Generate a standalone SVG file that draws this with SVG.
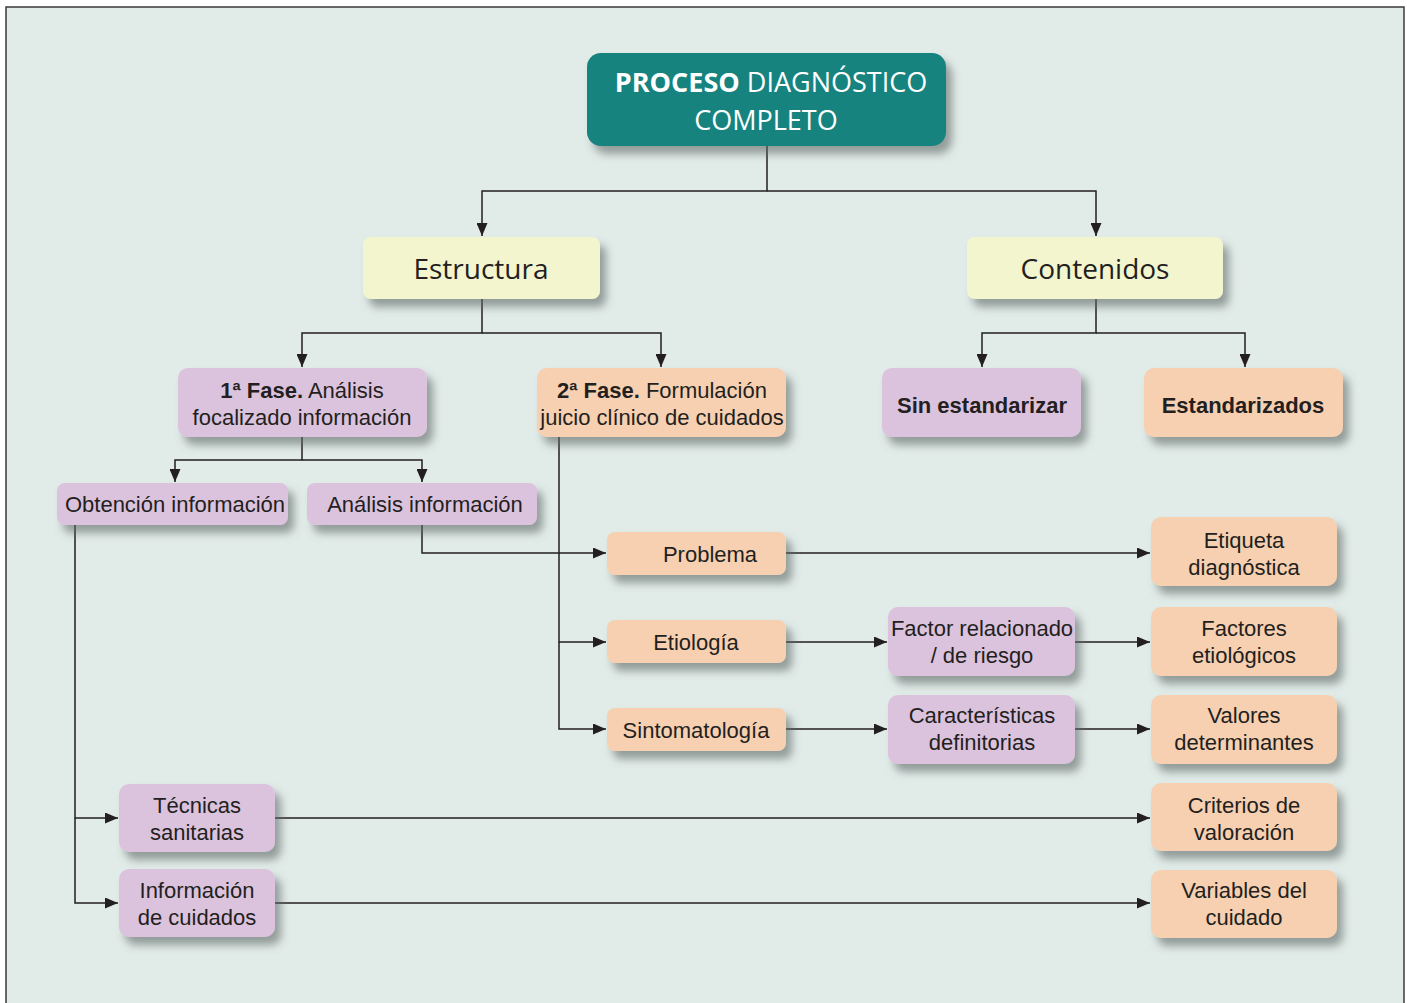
<svg xmlns="http://www.w3.org/2000/svg" width="1407" height="1003" viewBox="0 0 1407 1003">
<defs>
<filter id="sh" x="-20%" y="-30%" width="150%" height="190%">
<feDropShadow dx="6" dy="8" stdDeviation="4.5" flood-color="#5f6866" flood-opacity="0.6"/>
</filter>
<marker id="ar" viewBox="0 0 13 11" refX="13" refY="5.5" markerWidth="13" markerHeight="11" markerUnits="userSpaceOnUse" orient="auto">
<path d="M0,0 L13,5.5 L0,11 Z" fill="#231f20"/>
</marker>
<style>
.bg{fill:#e1ebe8;stroke:#3a3a3a;stroke-width:1.5}
.teal{fill:#17837f;filter:url(#sh)}
.yel{fill:#f3f5cf;filter:url(#sh)}
.pur{fill:#dcc3dd;filter:url(#sh)}
.pch{fill:#f6d0b0;filter:url(#sh)}
.t{font-family:"Liberation Sans",Arial,sans-serif;font-size:22px;fill:#231f20;text-anchor:middle}
.c{font-family:"Open Sans","Noto Sans",sans-serif;fill:#231f20;text-anchor:middle}
.w{fill:#ffffff}
.b{font-weight:bold}
.ln{fill:none;stroke:#231f20;stroke-width:1.5}
</style>
</defs>
<rect class="bg" x="6" y="7" width="1398" height="1010"/>

<g id="connectors">
<path class="ln" d="M767,146 V191 H482 V236" marker-end="url(#ar)"/>
<path class="ln" d="M767,191 H1096 V236" marker-end="url(#ar)"/>
<path class="ln" d="M482,299 V333 H302 V367" marker-end="url(#ar)"/>
<path class="ln" d="M482,333 H661 V367" marker-end="url(#ar)"/>
<path class="ln" d="M1096,299 V333 H982 V367" marker-end="url(#ar)"/>
<path class="ln" d="M1096,333 H1245 V367" marker-end="url(#ar)"/>
<path class="ln" d="M302,437 V460 H175 V482" marker-end="url(#ar)"/>
<path class="ln" d="M302,460 H422 V482" marker-end="url(#ar)"/>
<path class="ln" d="M422,525 V553 H606" marker-end="url(#ar)"/>
<path class="ln" d="M559,437 V642 H606" marker-end="url(#ar)"/>
<path class="ln" d="M559,642 V729 H606" marker-end="url(#ar)"/>
<path class="ln" d="M786,553 H1150" marker-end="url(#ar)"/>
<path class="ln" d="M786,642 H887" marker-end="url(#ar)"/>
<path class="ln" d="M1075,642 H1150" marker-end="url(#ar)"/>
<path class="ln" d="M786,729 H887" marker-end="url(#ar)"/>
<path class="ln" d="M1075,729 H1150" marker-end="url(#ar)"/>
<path class="ln" d="M75,525 V818 H118" marker-end="url(#ar)"/>
<path class="ln" d="M75,818 V903 H118" marker-end="url(#ar)"/>
<path class="ln" d="M275,818 H1150" marker-end="url(#ar)"/>
<path class="ln" d="M275,903 H1150" marker-end="url(#ar)"/>
</g>

<g id="n-proceso">
<rect class="teal" x="587" y="53" width="359" height="93" rx="14"/>
<text class="c w" x="771" y="92" font-size="27"><tspan class="b">PROCESO</tspan> DIAGNÓSTICO</text>
<text class="c w" x="766" y="130" font-size="27">COMPLETO</text>
</g>
<g id="n-estructura">
<rect class="yel" x="363" y="237" width="237" height="62" rx="8"/>
<text class="c" x="481" y="279" font-size="28">Estructura</text>
</g>
<g id="n-contenidos">
<rect class="yel" x="967" y="237" width="256" height="62" rx="8"/>
<text class="c" x="1095" y="279" font-size="28">Contenidos</text>
</g>
<g id="n-fase1">
<rect class="pur" x="178" y="368" width="249" height="69" rx="10"/>
<text class="t" x="302" y="398"><tspan class="b">1ª Fase.</tspan> Análisis</text>
<text class="t" x="302" y="425">focalizado información</text>
</g>
<g id="n-fase2">
<rect class="pch" x="537" y="368" width="249" height="69" rx="10"/>
<text class="t" x="662" y="398"><tspan class="b">2ª Fase.</tspan> Formulación</text>
<text class="t" x="662" y="425">juicio clínico de cuidados</text>
</g>
<g id="n-sin">
<rect class="pur" x="882" y="368" width="199" height="69" rx="10"/>
<text class="t b" x="982" y="413">Sin estandarizar</text>
</g>
<g id="n-estandarizados">
<rect class="pch" x="1144" y="368" width="199" height="69" rx="10"/>
<text class="t b" x="1243" y="413">Estandarizados</text>
</g>
<g id="n-obtencion">
<rect class="pur" x="57" y="483" width="231" height="42" rx="8"/>
<text class="t" x="175" y="512">Obtención información</text>
</g>
<g id="n-analisis">
<rect class="pur" x="307" y="483" width="230" height="42" rx="8"/>
<text class="t" x="425" y="512">Análisis información</text>
</g>
<g id="n-problema">
<rect class="pch" x="607" y="532" width="179" height="43" rx="8"/>
<text class="t" x="710" y="562">Problema</text>
</g>
<g id="n-etiologia">
<rect class="pch" x="607" y="620" width="179" height="43" rx="8"/>
<text class="t" x="696" y="650">Etiología</text>
</g>
<g id="n-sintomatologia">
<rect class="pch" x="607" y="708" width="179" height="43" rx="8"/>
<text class="t" x="696" y="738">Sintomatología</text>
</g>
<g id="n-factor">
<rect class="pur" x="888" y="607" width="187" height="69" rx="10"/>
<text class="t" x="982" y="636">Factor relacionado</text>
<text class="t" x="982" y="663">/ de riesgo</text>
</g>
<g id="n-caracteristicas">
<rect class="pur" x="888" y="695" width="187" height="69" rx="10"/>
<text class="t" x="982" y="723">Características</text>
<text class="t" x="982" y="750">definitorias</text>
</g>
<g id="n-etiqueta">
<rect class="pch" x="1151" y="517" width="186" height="69" rx="10"/>
<text class="t" x="1244" y="548">Etiqueta</text>
<text class="t" x="1244" y="575">diagnóstica</text>
</g>
<g id="n-factores">
<rect class="pch" x="1151" y="607" width="186" height="69" rx="10"/>
<text class="t" x="1244" y="636">Factores</text>
<text class="t" x="1244" y="663">etiológicos</text>
</g>
<g id="n-valores">
<rect class="pch" x="1151" y="695" width="186" height="69" rx="10"/>
<text class="t" x="1244" y="723">Valores</text>
<text class="t" x="1244" y="750">determinantes</text>
</g>
<g id="n-criterios">
<rect class="pch" x="1151" y="783" width="186" height="68" rx="10"/>
<text class="t" x="1244" y="813">Criterios de</text>
<text class="t" x="1244" y="840">valoración</text>
</g>
<g id="n-variables">
<rect class="pch" x="1151" y="870" width="186" height="68" rx="10"/>
<text class="t" x="1244" y="898">Variables del</text>
<text class="t" x="1244" y="925">cuidado</text>
</g>
<g id="n-tecnicas">
<rect class="pur" x="119" y="784" width="156" height="68" rx="10"/>
<text class="t" x="197" y="813">Técnicas</text>
<text class="t" x="197" y="840">sanitarias</text>
</g>
<g id="n-informacion">
<rect class="pur" x="119" y="869" width="156" height="68" rx="10"/>
<text class="t" x="197" y="898">Información</text>
<text class="t" x="197" y="925">de cuidados</text>
</g>
</svg>
